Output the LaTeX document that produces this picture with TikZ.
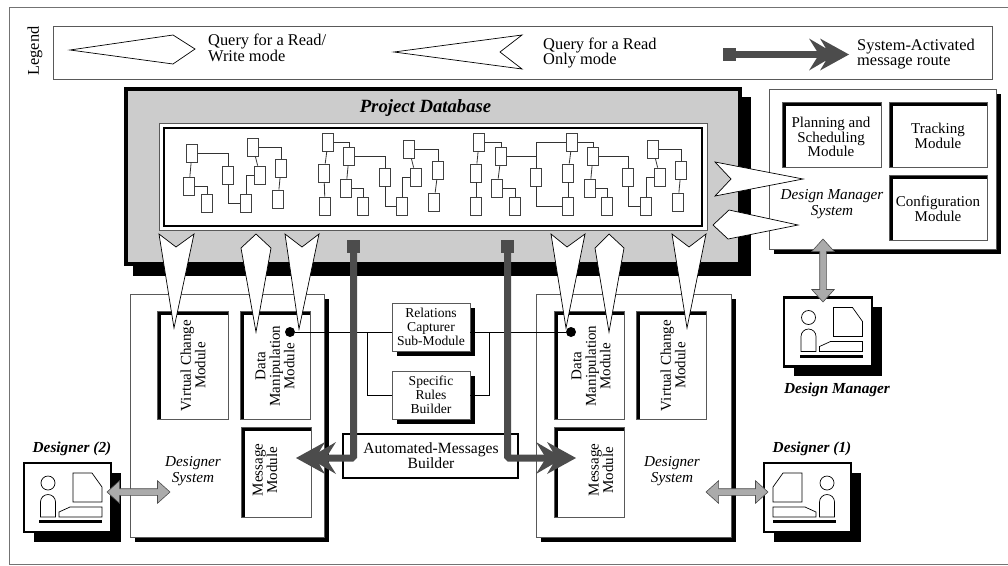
\documentclass[tikz,border=0pt]{standalone}
\usepackage{fontspec}
\setmainfont{Liberation Serif}
\usetikzlibrary{shadows,shapes.arrows}
\tikzset{
  every node/.style={inner sep=0pt},
  txt/.style={font=\fontsize{15}{14.5}\selectfont,align=center},
  legendtxt/.style={font=\fontsize{16.4}{15.5}\selectfont,align=left,anchor=west},
  smalltxt/.style={font=\fontsize{13.6}{14}\selectfont,align=center},
  systxt/.style={font=\fontsize{15.2}{15.5}\selectfont\itshape,align=center},
  actor/.style={font=\fontsize{15.3}{15}\selectfont\bfseries\itshape},
  thinbox/.style={draw=black!65,line width=.7pt,fill=white},
  leaf/.style={draw=black!75,line width=.8pt,fill=white,minimum width=11pt,minimum height=18pt},
  link/.style={line width=.8pt,black!80},
  wire/.style={line width=.7pt,black},
  dropbox/.style={thinbox,general shadow={shadow xshift=5pt,shadow yshift=-5pt,fill=black}},
  modbox/.style={thinbox,path picture={
    \fill[black](path picture bounding box.north west)rectangle([xshift=4pt]path picture bounding box.south west);
    \fill[black](path picture bounding box.north west)rectangle([yshift=-4pt]path picture bounding box.north east);}},
  termbox/.style={draw=black,line width=2.6pt,fill=white,general shadow={shadow xshift=9.5pt,shadow yshift=-9.5pt,fill=black}},
  querytip/.style={draw=black,line width=.7pt,fill=white,line join=miter},
  twoway/.style={double arrow,draw=black!70,line width=.6pt,fill=black!33,inner sep=3pt,minimum width=22pt,
    double arrow head extend=8pt,double arrow tip angle=84},
  routesq/.style={fill=black!70,minimum width=13pt,minimum height=13pt},
  route/.style={black!70,line width=7pt,rounded corners=1.5pt,shorten >=26pt},
  pics/syshead/.style={code={\fill[black!70](0,0)--(-29,-16)--(-23,-6)--(-40,-16)--(-30,0)--(-40,16)--(-23,6)--(-29,16)--cycle;}},
  pics/terminal/.style={code={
    \draw[line width=.7pt](-19.5,-14.5)circle(7);
    \draw[line width=.7pt](-27,19.5)--(-27,4.5)arc[start angle=180,end angle=0,x radius=7.5pt,y radius=7.5pt]--(-12,19.5)--cycle;
    \draw[line width=.7pt](5.5,-24.5)--(24.5,-24.5)--(34.5,-10.5)--(34.5,4.5)--(5.5,4.5)--cycle;
    \draw[line width=.7pt](-8.5,19.5)--(-8.5,14.5)--(2.5,9.5)--(34.5,9.5)--(34.5,19.5)--cycle;
    \fill(-28.5,22.5)rectangle(34.5,25.5);}}
}
\begin{document}
\begin{tikzpicture}[x=1pt,y=-1pt]
\useasboundingbox (0,0) rectangle (1008,565);
\fill[white](0,0)rectangle(1008,565);
\draw[black!55,line width=.8pt](1008,7)--(9,7)--(9,564)--(1008,564);
\node[rotate=90,legendtxt,anchor=center](legendlbl)at(35,51){Legend};
\node[thinbox,minimum width=939pt,minimum height=53pt](legend)at(522.5,52.5){};
\draw[querytip](70,50)--(173,35)--(195,49)--(173,64)--cycle;
\node[legendtxt](rwtxt)at(208,48){Query for a Read/\\Write mode};
\draw[querytip](394,52)--(522,35)--(500,52)--(522,69)--cycle;
\node[legendtxt](rotxt)at(543,53){Query for a Read\\Only mode};
\node[routesq](keysq)at(729.5,54.5){};
\coordinate(keytip)at(849,54.5);
\draw[route](keysq)--(keytip);
\pic at(keytip){syshead};
\node[legendtxt](routetxt)at(857,54){System-Activated\\message route};

\fill[black](133,97)rectangle(751,276);
\node[fill=black,minimum width=618pt,minimum height=179pt](dbframe)at(433,176.5){};
\node[fill=black!20,minimum width=610pt,minimum height=171pt](db)at(433,176.5){};
\node[actor,font=\fontsize{18.7}{18}\selectfont\bfseries\itshape](dbtxt)at(425.5,108){Project Database};
\node[thinbox,minimum width=548pt,minimum height=107pt](repo)at(433,176.5){};
\node[draw=black,line width=2.2pt,fill=white,minimum width=538pt,minimum height=98pt](repoin)at(433,177){};
\foreach \n/\x/\y in {a1/192/153,a2/189/186,a3/207/203,a4/228/175,a5/246/203,a6/260/175,a7/253/147,a8/281/168,a9/278/199,
  b1/328/142,b2/324/173,b3/325/206,b4/349/156,b5/346/188,b6/363/206,b7/385/177,b8/402/206,b9/416/177,b10/409/149,b11/438/170,b12/434/202,
  c1/479/142,c2/476/173,c3/476/206,c4/501/156,c5/497/188,c6/515/206,c7/536/177,
  d1/572/142,d2/568/173,d3/568/206,d4/593/156,d5/590/188,d6/607/206,d7/628/177,d8/646/206,d9/660/177,d10/653/149,d11/681/170,d12/678/202}
  \node[leaf](\n)at(\x,\y){};
\foreach \p/\q in {a1/a2,a7/a6,a8/a9,b1/b2,b2/b3,b4/b5,b10/b9,b11/b12,c1/c2,c2/c3,c4/c5,d1/d2,d2/d3,d4/d5,d10/d9,d11/d12}
  \draw[link](\p)--(\q);
\foreach \p/\q in {a2/a3,a1/a4,a7/a8,b1/b4,b5/b6,b4/b7,b10/b11,c1/c4,c5/c6,c4/c7,d1/d4,d5/d6,d4/d7,d10/d11}
  \draw[link](\p.east)-|(\q.north);
\foreach \p/\q in {a4/a5,b7/b8,c7/d3,d7/d8}
  \draw[link](\p.south)|-(\q.west);
\foreach \p/\q in {a5/a6,b8/b9,d8/d9,c7/d1}
  \draw[link](\p.north)|-(\q.west);

\node[dropbox,minimum width=227pt,minimum height=160pt](mgrsys)at(882.5,169){};
\node[modbox,minimum width=99pt,minimum height=65pt](plan)at(831.5,134.5){};
\node[txt](plantxt)at(831,137){Planning and\\Scheduling\\Module};
\node[modbox,minimum width=98pt,minimum height=65pt](track)at(938,134.5){};
\node[txt](tracktxt)at(938,136){Tracking\\Module};
\node[modbox,minimum width=98pt,minimum height=65pt](config)at(938,207.5){};
\node[txt](configtxt)at(938,209){Configuration\\Module};
\node[systxt](mgrtxt)at(832,204){Design Manager\\System};

\node[dropbox,minimum width=194pt,minimum height=243pt](sysL)at(227,415.5){};
\node[modbox,minimum width=71pt,minimum height=108pt](vcL)at(192.5,365){};
\node[txt,rotate=90](vcLtxt)at(193,365.5){Virtual Change\\Module};
\node[modbox,minimum width=70pt,minimum height=108pt](dmL)at(275,365){};
\node[txt,rotate=90](dmLtxt)at(275,366){Data\\Manipulation\\Module};
\node[modbox,minimum width=70pt,minimum height=90pt](msgL)at(276,472){};
\node[txt,rotate=90](msgLtxt)at(265,470){Message\\Module};
\node[systxt](sysLtxt)at(193,471){Designer\\System};

\node[dropbox,minimum width=195pt,minimum height=243pt](sysR)at(633.5,415.5){};
\node[modbox,minimum width=70pt,minimum height=108pt](dmR)at(589,365){};
\node[txt,rotate=90](dmRtxt)at(591,366){Data\\Manipulation\\Module};
\node[modbox,minimum width=70pt,minimum height=108pt](vcR)at(671,365){};
\node[txt,rotate=90](vcRtxt)at(673,365.5){Virtual Change\\Module};
\node[modbox,minimum width=70pt,minimum height=90pt](msgR)at(589,472){};
\node[txt,rotate=90](msgRtxt)at(601,470){Message\\Module};
\node[systxt](sysRtxt)at(672,471){Designer\\System};

\node[dropbox,minimum width=78pt,minimum height=48pt](rel)at(431,327){};
\node[smalltxt](reltxt)at(431,327){Relations\\Capturer\\Sub-Module};
\node[dropbox,minimum width=78pt,minimum height=48pt](rules)at(431,395){};
\node[smalltxt](rulestxt)at(431,395){Specific\\Rules\\Builder};
\node[circle,fill=black,minimum size=10pt](dotL)at(290,332){};
\node[circle,fill=black,minimum size=10pt](dotR)at(571,332){};
\coordinate(juncL)at(367,332);
\coordinate(juncR)at(489,332);
\draw[wire](dotL)--(dotL-|rel.west);
\draw[wire](dotR)--(dotR-|rel.east);
\draw[wire](juncL)|-(rules.west);
\draw[wire](juncR)|-(rules.east);

\node[draw=black,line width=1.3pt,fill=white,minimum width=175pt,minimum height=44pt](auto)at(430.5,456){};
\node[txt,font=\fontsize{15.6}{15}\selectfont](autotxt)at(431,456){Automated-Messages\\Builder};
\node[routesq](sqL)at(353.5,246.5){};
\node[routesq](sqR)at(507.5,246.5){};
\coordinate(tipL)at(296,458);
\coordinate(tipR)at(576,458);
\draw[route](sqL)|-(tipL);
\draw[route](sqR)|-(tipR);
\pic[rotate=180] at(tipL){syshead};
\pic at(tipR){syshead};

\draw[querytip](159,234)--(176,247)--(194,234)--(174,328)--cycle;
\draw[querytip](256,234)--(271,248)--(256,332)--(241,248)--cycle;
\draw[querytip](285,234)--(302,247)--(319,234)--(299,329)--cycle;
\draw[querytip](551,234)--(567,247)--(585,234)--(566,328)--cycle;
\draw[querytip](609,234)--(624,248)--(609,332)--(595,248)--cycle;
\draw[querytip](672,234)--(689,247)--(706,234)--(687,328)--cycle;
\draw[querytip](715,162)--(731,179)--(715,196)--(803,179)--cycle;
\draw[querytip](713,225)--(729,210)--(798,225)--(728,239)--cycle;

\node[termbox,minimum width=87pt,minimum height=69pt](termL)at(67.5,497.5){};
\pic at(termL){terminal};
\node[actor](termLtxt)at(72,449){Designer (2)};
\node[termbox,minimum width=87pt,minimum height=69pt](termR)at(807.5,497.5){};
\pic[xscale=-1] at(termR){terminal};
\node[actor](termRtxt)at(812,449){Designer (1)};
\node[termbox,minimum width=88pt,minimum height=69pt](termM)at(828,332){};
\pic at(termM){terminal};
\node[actor](termMtxt)at(837,390){Design Manager};

\node[twoway,minimum height=63pt](linkL)at(138.5,492){};
\node[twoway,minimum height=62pt](linkR)at(737,492){};
\node[twoway,rotate=90,minimum height=63pt](linkM)at(823,270.5){};
\end{tikzpicture}
\end{document}
